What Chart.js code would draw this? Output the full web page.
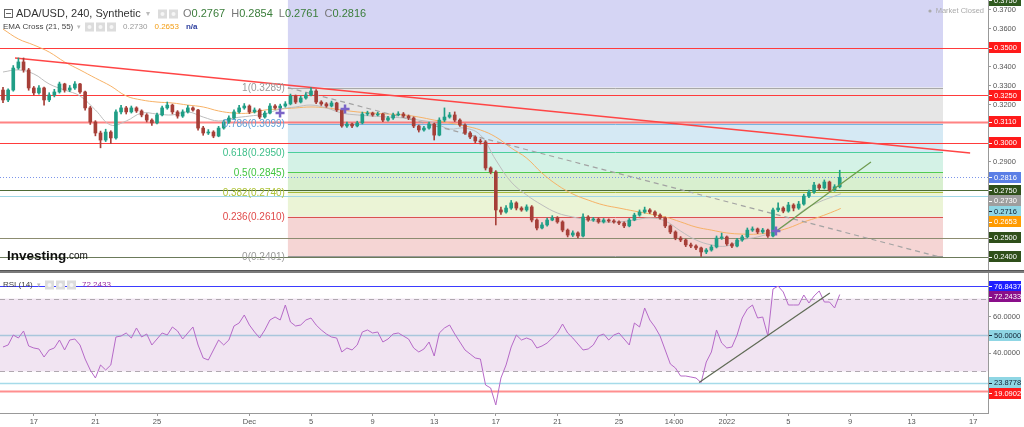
<!DOCTYPE html>
<html>
<head>
<meta charset="utf-8">
<script src="https://cdn.jsdelivr.net/npm/chart.js@4.4.1/dist/chart.umd.min.js"></script>
<style>
  body { margin: 0; background: #fff; width: 1024px; height: 427px; overflow: hidden; position: relative; }
  #price { position: absolute; left: 0; top: 0; }
  #rsi { position: absolute; left: 0; top: 273px; }
  .sep { position: absolute; left: 0; top: 270px; width: 1024px; height: 3px; background: #7a7a7a; border-top: 1px solid #555; box-sizing: border-box; }
</style>
</head>
<body>
<canvas id="price" width="1024" height="270"></canvas>
<div class="sep"></div>
<canvas id="rsi" width="1024" height="154"></canvas>
<script>
// ---------- data (x in days after 17 Nov 2021) ----------
const startDay = -2;        // first candle
const candleStep = 1 / 3;   // 8h candles
const firstOpen = 0.3276;

const closes = [
  0.3224,0.3276,0.3392,0.3424,0.3382,0.3287,0.3261,0.3287,0.3224,0.3250,
  0.3266,0.3308,0.3276,0.3287,0.3308,0.3266,0.3182,0.3108,0.3050,0.3013,
  0.3055,0.3024,0.3161,0.3182,0.3161,0.3182,0.3166,0.3145,0.3118,0.3103,
  0.3145,0.3182,0.3197,0.3161,0.3139,0.3161,0.3182,0.3171,0.3076,0.3050,
  0.3055,0.3034,0.3076,0.3108,0.3129,0.3161,0.3182,0.3192,0.3161,0.3171,
  0.3134,0.3155,0.3192,0.3182,0.3192,0.3203,0.3245,0.3213,0.3234,0.3250,
  0.3271,0.3213,0.3203,0.3192,0.3208,0.3171,0.3087,0.3097,0.3087,0.3103,
  0.3150,0.3155,0.3145,0.3150,0.3118,0.3129,0.3145,0.3150,0.3139,0.3129,
  0.3087,0.3066,0.3076,0.3097,0.3039,0.3118,0.3134,0.3145,0.3118,0.3092,
  0.3050,0.3029,0.3008,0.3003,0.2866,0.2845,0.2645,0.2634,0.2655,0.2682,
  0.2655,0.2645,0.2661,0.2592,0.2550,0.2566,0.2592,0.2603,0.2582,0.2539,
  0.2513,0.2524,0.2508,0.2608,0.2592,0.2597,0.2582,0.2592,0.2587,0.2582,
  0.2576,0.2561,0.2592,0.2618,0.2634,0.2645,0.2634,0.2618,0.2603,0.2561,
  0.2529,0.2497,0.2487,0.2461,0.2455,0.2445,0.2424,0.2434,0.2450,0.2497,
  0.2503,0.2466,0.2455,0.2487,0.2503,0.2539,0.2545,0.2529,0.2539,0.2508,
  0.2645,0.2655,0.2639,0.2671,0.2655,0.2676,0.2718,0.2739,0.2776,0.2761,
  0.2792,0.2750,0.2767,0.2816
];
const highs = [
  0.3290,0.3282,0.3405,0.3445,0.3445,0.3390,0.3295,0.3300,0.3292,0.3262,
  0.3280,0.3318,0.3312,0.3300,0.3320,0.3312,0.3270,0.3190,0.3115,0.3060,
  0.3070,0.3062,0.3172,0.3195,0.3190,0.3192,0.3188,0.3172,0.3152,0.3125,
  0.3155,0.3192,0.3213,0.3202,0.3168,0.3172,0.3195,0.3188,0.3175,0.3085,
  0.3068,0.3062,0.3085,0.3118,0.3140,0.3172,0.3195,0.3205,0.3198,0.3182,
  0.3178,0.3165,0.3205,0.3200,0.3202,0.3215,0.3255,0.3250,0.3245,0.3262,
  0.3289,0.3278,0.3220,0.3210,0.3218,0.3212,0.3175,0.3108,0.3102,0.3112,
  0.3160,0.3165,0.3160,0.3160,0.3155,0.3138,0.3155,0.3162,0.3158,0.3145,
  0.3135,0.3092,0.3085,0.3108,0.3102,0.3130,0.3182,0.3158,0.3161,0.3125,
  0.3098,0.3058,0.3035,0.3018,0.3010,0.2872,0.2852,0.2660,0.2668,0.2695,
  0.2688,0.2662,0.2672,0.2668,0.2598,0.2578,0.2602,0.2615,0.2610,0.2588,
  0.2545,0.2535,0.2530,0.2625,0.2615,0.2606,0.2603,0.2600,0.2598,0.2594,
  0.2588,0.2582,0.2600,0.2628,0.2645,0.2660,0.2652,0.2640,0.2625,0.2608,
  0.2566,0.2535,0.2505,0.2492,0.2470,0.2462,0.2450,0.2442,0.2460,0.2508,
  0.2523,0.2508,0.2472,0.2495,0.2512,0.2550,0.2556,0.2550,0.2548,0.2544,
  0.2655,0.2682,0.2662,0.2685,0.2678,0.2690,0.2728,0.2750,0.2790,0.2782,
  0.2803,0.2797,0.2778,0.2854
];
const lows = [
  0.3210,0.3215,0.3270,0.3385,0.3370,0.3275,0.3250,0.3255,0.3197,0.3215,
  0.3240,0.3260,0.3265,0.3268,0.3280,0.3258,0.3170,0.3095,0.3035,0.2972,
  0.3005,0.2995,0.3018,0.3150,0.3150,0.3155,0.3158,0.3135,0.3108,0.3090,
  0.3098,0.3140,0.3175,0.3150,0.3128,0.3132,0.3155,0.3165,0.3065,0.3038,
  0.3042,0.3025,0.3030,0.3070,0.3100,0.3122,0.3155,0.3175,0.3152,0.3155,
  0.3125,0.3128,0.3150,0.3175,0.3176,0.3186,0.3198,0.3205,0.3208,0.3228,
  0.3245,0.3205,0.3195,0.3185,0.3187,0.3163,0.3080,0.3080,0.3078,0.3082,
  0.3098,0.3142,0.3138,0.3140,0.3110,0.3112,0.3122,0.3140,0.3132,0.3120,
  0.3078,0.3055,0.3060,0.3070,0.3013,0.3035,0.3110,0.3128,0.3110,0.3085,
  0.3042,0.3020,0.2998,0.2992,0.2855,0.2835,0.2566,0.2622,0.2628,0.2648,
  0.2645,0.2638,0.2638,0.2582,0.2540,0.2545,0.2560,0.2588,0.2575,0.2530,
  0.2503,0.2505,0.2498,0.2503,0.2585,0.2585,0.2575,0.2576,0.2580,0.2575,
  0.2568,0.2552,0.2556,0.2588,0.2612,0.2628,0.2626,0.2610,0.2596,0.2552,
  0.2520,0.2488,0.2478,0.2452,0.2446,0.2436,0.2401,0.2415,0.2428,0.2445,
  0.2490,0.2458,0.2447,0.2450,0.2480,0.2498,0.2532,0.2520,0.2522,0.2500,
  0.2503,0.2636,0.2630,0.2633,0.2640,0.2648,0.2670,0.2710,0.2732,0.2752,
  0.2755,0.2742,0.2744,0.2761
];
const rsiValues = [
  43.41,44.51,50.00,48.35,52.20,43.96,42.86,42.31,37.91,41.76,
  42.86,47.25,41.76,47.25,47.80,44.51,36.81,30.77,26.37,33.52,
  30.77,33.52,48.90,49.45,51.10,48.35,53.85,48.90,50.55,44.51,
  47.80,51.10,50.00,54.40,52.20,47.80,51.10,54.40,44.51,37.36,
  36.26,41.76,47.25,44.51,47.25,54.95,56.59,60.99,55.49,51.65,
  48.35,52.75,58.24,59.89,58.24,66.48,57.14,54.95,55.49,58.24,
  59.34,55.49,52.75,50.55,48.90,48.35,40.66,42.86,41.76,44.51,
  51.65,52.75,51.10,51.65,46.15,47.80,50.55,51.10,49.45,47.80,
  42.86,40.66,42.31,46.15,38.46,51.10,53.85,55.49,50.55,46.15,
  41.76,39.56,37.36,36.81,22.53,20.88,11.54,26.37,33.52,43.41,
  50.00,47.25,48.35,47.25,42.86,43.96,45.60,48.35,51.10,56.04,
  51.10,48.35,45.05,41.76,42.31,44.51,49.45,50.55,47.25,50.00,
  51.10,47.80,44.51,56.59,54.40,64.84,58.24,54.40,49.45,41.76,
  34.07,31.87,27.47,27.47,26.92,26.37,23.88,35.16,40.66,52.75,
  45.60,42.86,43.41,50.00,59.34,64.29,66.48,59.34,59.89,49.45,
  75.27,76.84,73.63,66.48,66.48,66.48,71.98,67.58,71.43,74.18,
  68.13,68.13,64.84,72.24
];

const emaDays = [-2,-1,0,1,2,3,4,5,6,7,8,9,10,11,12,13,14,15,16,17,18,19,20,21,22,23,24,25,26,27,
  28,29,30,31,32,33,34,35,36,37,38,39,40,41,42,43,44,45,46,47,48,49,50,51,52,52.4];
const ema21 = [0.3371,0.3382,0.3361,0.3308,0.3276,0.3245,0.3171,0.3092,0.3113,0.3155,0.3150,0.3145,
  0.3161,0.3134,0.3113,0.3129,0.3139,0.3150,0.3176,0.3187,0.3197,0.3182,0.3155,0.3145,0.3139,0.3134,
  0.3129,0.3118,0.3103,0.3071,0.3076,0.3039,0.2908,0.2792,0.2724,0.2671,0.2629,0.2608,0.2592,0.2582,
  0.2582,0.2592,0.2603,0.2587,0.2534,0.2487,0.2461,0.2455,0.2487,0.2503,0.2529,0.2576,0.2645,0.2687,
  0.2718,0.2730];
const ema55 = [0.3597,0.3545,0.3513,0.3476,0.3424,0.3382,0.3339,0.3297,0.3245,0.3224,0.3213,0.3208,
  0.3197,0.3187,0.3166,0.3155,0.3155,0.3171,0.3176,0.3182,0.3187,0.3182,0.3171,0.3161,0.3155,0.3150,
  0.3145,0.3134,0.3118,0.3103,0.3087,0.3066,0.3029,0.2971,0.2918,0.2839,0.2776,0.2729,0.2697,0.2671,
  0.2655,0.2639,0.2624,0.2608,0.2582,0.2555,0.2539,0.2524,0.2518,0.2518,0.2529,0.2550,0.2582,0.2608,
  0.2639,0.2653];

const fibRatios = ['1', '0.786', '0.618', '0.5', '0.382', '0.236', '0'];
const fibPrices = [0.3289, 0.3099, 0.2950, 0.2845, 0.2740, 0.2610, 0.2401];
const fibDays = [16.5, 59.04];

const hLevels = [0.3500, 0.3250, 0.3110, 0.3000, 0.2750, 0.2716, 0.2500, 0.2400];
const lastPrice = 0.2816;
const redTrendDays = [-1.22, 60.8];
const redTrendPrices = [0.3445, 0.2945];
const dashTrendDays = [16.5, 58.85];
const dashTrendPrices = [0.3289, 0.2397];
const greenTrendDays = [48.13, 54.36];
const greenTrendPrices = [0.2529, 0.2897];
const markerDays = [15.99, 20.21, 48.19];
const markerPrices = [0.3155, 0.3176, 0.2534];

const rsiLevels = [76.8437, 50, 23.8778, 19.0902];
const rsiBand = [30, 70];
const rsiTrendDays = [43.2, 51.69];
const rsiTrendValues = [23.88, 73.08];

const priceTicks = [0.29, 0.32, 0.33, 0.34, 0.36, 0.37];
const rsiTicks = [40, 60];
const xTickDays = [0, 4, 8, 14, 18, 22, 26, 30, 34, 38, 41.58, 45, 49, 53, 57, 61];
const xTickLabels = ['17','21','25','Dec','5','9','13','17','21','25','14:00','2022','5','9','13','17'];

const priceTags = [0.3750, 0.3500, 0.3250, 0.3110, 0.3000, 0.2816, 0.2750, 0.2730, 0.2716, 0.2653, 0.2500, 0.2400];
const rsiTags = [76.8437, 72.2433, 50.0000, 23.8778, 19.0902];

// ---------- styles ----------
const FONT = '"Liberation Sans", Arial, sans-serif';
Chart.defaults.font.family = FONT;
const upColor = '#1f9e86';
const downColor = '#a63f38';
const fibZoneColors = ['#d5d5f4', '#e6e6e6', '#d5e9f4', '#d4f2e6', '#d8efcf', '#ebf4d6', '#f5d5d4'];
const fibLineColors = ['#a8a8a8', '#78b4e0', '#4ccf9c', '#52cc52', '#a6ba3c', '#d9534f', '#9a9a9a'];
const fibTextColors = ['#9a9a9a', '#5d9fd6', '#3dbf8a', '#41c441', '#b0c43a', '#e04a4a', '#9a9a9a'];
const hLevelColors = ['#ff3b3b', '#ff3b3b', 'rgba(255,90,90,0.75)', '#ff3b3b', '#4d6b35', '#9fd6e6', '#8c8c70', '#6b7a5a'];
const hLevelWidths = [1, 1, 2, 1, 1.2, 1.2, 1.2, 1.2];
const priceTagStyles = [['#2f5a1f','#fff'],['#ff1a1a','#fff'],['#ff1a1a','#fff'],['#ff1a1a','#fff'],['#ff1a1a','#fff'],
  ['#5b7fe6','#fff'],['#2f4f1a','#fff'],['#9e9e9e','#fff'],['#8fd6e4','#123'],['#ff9b00','#fff'],['#2f4f1a','#fff'],['#2f4f1a','#fff']];
const rsiTagStyles = [['#1f1fff','#fff'],['#8a0e8a','#fff'],['#8fd6e4','#123'],['#8fd6e4','#123'],['#ff1a1a','#fff']];
const rsiLevelColors = ['#3b3bff', '#a9c6dc', '#a6dbe9', '#ff8f8f'];
const rsiLevelWidths = [1, 1.5, 1.5, 2];

const X_MIN = -2.1948, X_MAX = 61.961;

const candles = closes.map((c, i) => ({
  d: startDay + i * candleStep,
  o: i === 0 ? firstOpen : closes[i - 1],
  c: c, h: highs[i], l: lows[i]
}));
const candleColor = ctx => {
  const k = candles[ctx.dataIndex];
  return k && k.c >= k.o ? upColor : downColor;
};
const pts = (xs, ys) => xs.map((x, i) => ({ x: x, y: ys[i] }));

function hLine(ctx, x0, x1, py, color, width, dash) {
  ctx.beginPath();
  ctx.strokeStyle = color;
  ctx.lineWidth = width;
  ctx.setLineDash(dash || []);
  ctx.moveTo(x0, py);
  ctx.lineTo(x1, py);
  ctx.stroke();
  ctx.setLineDash([]);
}

function drawTags(ctx, scale, tags, styles) {
  const items = tags.map((v, i) => ({ v: v, py: scale.getPixelForValue(v), st: styles[i] }))
    .sort((a, b) => a.py - b.py);
  let prev = -Infinity;
  items.forEach(it => { it.py = Math.max(it.py, prev + 10.5); prev = it.py; });
  ctx.font = '7.5px ' + FONT;
  ctx.textAlign = 'left';
  ctx.textBaseline = 'middle';
  items.forEach(it => {
    ctx.fillStyle = it.st[0];
    ctx.fillRect(scale.left + 1, Math.round(it.py - 5.5), 32, 11);
    ctx.fillStyle = it.st[1];
    ctx.fillRect(scale.left + 1, Math.round(it.py), 3, 1);
    ctx.fillText(it.v.toFixed(4), scale.left + 6, it.py + 0.5);
  });
}

function icons(ctx, x, y, n) {
  for (let i = 0; i < n; i++) {
    ctx.fillStyle = '#dcdcdc';
    ctx.fillRect(x + i * 11, y - 4.5, 9, 9);
    ctx.fillStyle = '#f6f6f6';
    ctx.beginPath();
    ctx.arc(x + i * 11 + 4.5, y, 2, 0, Math.PI * 2);
    ctx.fill();
  }
}

function runs(ctx, x, y, parts) {
  parts.forEach(p => {
    ctx.font = p[2];
    ctx.fillStyle = p[1];
    ctx.fillText(p[0], x, y);
    x += ctx.measureText(p[0]).width + (p[3] || 0);
  });
}

const fixedAxis = w => scale => { scale.width = w; scale.paddingTop = 0; scale.paddingBottom = 0; };

// ---------- price chart ----------
const priceDecor = {
  id: 'priceDecor',
  beforeDatasetsDraw(chart) {
    const { ctx, chartArea: a, scales: { x, y } } = chart;
    const fx0 = x.getPixelForValue(fibDays[0]);
    const fx1 = x.getPixelForValue(fibDays[1]);
    ctx.save();
    fibZoneColors.forEach((col, k) => {
      const top = k === 0 ? a.top : y.getPixelForValue(fibPrices[k - 1]);
      const bot = y.getPixelForValue(fibPrices[k]);
      ctx.fillStyle = col;
      ctx.fillRect(fx0, top, fx1 - fx0, bot - top);
    });
    fibPrices.forEach((p, k) => hLine(ctx, fx0, fx1, Math.round(y.getPixelForValue(p)) + 0.5, fibLineColors[k], 1));
    hLevels.forEach((p, k) => hLine(ctx, a.left, a.right, Math.round(y.getPixelForValue(p)) + 0.5, hLevelColors[k], hLevelWidths[k]));
    hLine(ctx, a.left, a.right, Math.round(y.getPixelForValue(lastPrice)) + 0.5, '#7b95ea', 1, [1, 2]);
    ctx.restore();
  },
  afterDraw(chart) {
    const { ctx, scales: { x, y } } = chart;
    const fx0 = x.getPixelForValue(fibDays[0]);
    ctx.save();
    ctx.font = '10px ' + FONT;
    ctx.textAlign = 'right';
    ctx.textBaseline = 'middle';
    fibPrices.forEach((p, k) => {
      ctx.fillStyle = fibTextColors[k];
      ctx.fillText(fibRatios[k] + '(' + p.toFixed(4) + ')', fx0 - 3, y.getPixelForValue(p) + 1);
    });
    drawTags(ctx, y, priceTags, priceTagStyles);

    // header
    ctx.textAlign = 'left';
    ctx.textBaseline = 'middle';
    ctx.strokeStyle = '#666';
    ctx.lineWidth = 1;
    ctx.strokeRect(4.5, 9.5, 8, 8);
    hLine(ctx, 6, 11, 13.5, '#666', 1);
    const big = '11px ' + FONT;
    runs(ctx, 16, 14, [['ADA/USD, 240, Synthetic', '#333', big, 5], ['\u25BE', '#bbb', '8px ' + FONT, 0]]);
    icons(ctx, 158, 14, 2);
    runs(ctx, 183, 14, [['O', '#777', big], ['0.2767', '#3a7d3a', big, 6], ['H', '#777', big], ['0.2854', '#3a7d3a', big, 6],
      ['L', '#777', big], ['0.2761', '#3a7d3a', big, 6], ['C', '#777', big], ['0.2816', '#3a7d3a', big]]);
    const sm = '8px ' + FONT;
    runs(ctx, 3, 27, [['EMA Cross (21, 55)', '#444', sm, 4], ['\u25BE', '#bbb', '7px ' + FONT]]);
    icons(ctx, 85, 27, 3);
    runs(ctx, 123, 27, [['0.2730', '#9a9a9a', sm, 7], ['0.2653', '#f39c12', sm, 7], ['n/a', '#2c3e9e', 'bold 8px ' + FONT]]);

    // market closed
    ctx.textAlign = 'right';
    ctx.font = '7.5px ' + FONT;
    ctx.fillStyle = '#aaa';
    ctx.fillText('Market Closed', 984, 11);
    ctx.beginPath();
    ctx.arc(930, 11, 1.6, 0, Math.PI * 2);
    ctx.fill();

    // logo
    ctx.textAlign = 'left';
    runs(ctx, 7, 256, [['Investing', '#111', 'bold 13.5px ' + FONT], ['.com', '#111', '10px ' + FONT]]);
    ctx.restore();
  }
};

new Chart(document.getElementById('price'), {
  type: 'bar',
  data: {
    datasets: [
      { type: 'line', data: pts(markerDays, markerPrices), showLine: false, pointStyle: 'cross',
        pointRadius: 4.5, pointBorderWidth: 2.5, pointBorderColor: '#7a64c8', order: 0 },
      { type: 'line', data: pts(greenTrendDays, greenTrendPrices), borderColor: '#6e9a4e', borderWidth: 1.2, pointRadius: 0, order: 1 },
      { type: 'bar', data: candles.map(k => ({ x: k.d, y: [k.o, k.c] })), backgroundColor: candleColor,
        barThickness: 3, minBarLength: 1, grouped: false, order: 2 },
      { type: 'bar', data: candles.map(k => ({ x: k.d, y: [k.l, k.h] })), backgroundColor: candleColor,
        barThickness: 1, grouped: false, order: 3 },
      { type: 'line', data: pts(redTrendDays, redTrendPrices), borderColor: '#ff4545', borderWidth: 1.4, pointRadius: 0, order: 4 },
      { type: 'line', data: pts(dashTrendDays, dashTrendPrices), borderColor: '#a3a3a3', borderDash: [5, 4], borderWidth: 1.2, pointRadius: 0, order: 4 },
      { type: 'line', data: pts(emaDays, ema21), borderColor: '#bdbdbd', borderWidth: 1, pointRadius: 0, tension: 0.4, order: 5 },
      { type: 'line', data: pts(emaDays, ema55), borderColor: '#f7b267', borderWidth: 1, pointRadius: 0, tension: 0.4, order: 5 }
    ]
  },
  options: {
    responsive: false,
    animation: false,
    devicePixelRatio: 1,
    events: [],
    layout: { padding: 0, autoPadding: false },
    plugins: { legend: { display: false }, tooltip: { enabled: false } },
    scales: {
      x: { type: 'linear', display: false, min: X_MIN, max: X_MAX, offset: false },
      y: {
        position: 'right', min: 0.232895, max: 0.375,
        afterFit: fixedAxis(36),
        afterBuildTicks: s => { s.ticks = priceTicks.map(v => ({ value: v })); },
        ticks: { callback: v => v.toFixed(4), font: { size: 7.5 }, color: '#555', padding: 2 },
        grid: { drawOnChartArea: false, tickLength: 3, color: '#999' },
        border: { color: '#999' }
      }
    }
  },
  plugins: [priceDecor]
});

// ---------- RSI chart ----------
const rsiDecor = {
  id: 'rsiDecor',
  beforeDatasetsDraw(chart) {
    const { ctx, chartArea: a, scales: { y } } = chart;
    ctx.save();
    const yt = y.getPixelForValue(rsiBand[1]), yb = y.getPixelForValue(rsiBand[0]);
    ctx.fillStyle = '#f1e4f2';
    ctx.fillRect(a.left, yt, a.right - a.left, yb - yt);
    rsiBand.forEach(v => hLine(ctx, a.left, a.right, Math.round(y.getPixelForValue(v)) + 0.5, '#b0a8b0', 1, [5, 4]));
    rsiLevels.forEach((v, k) => hLine(ctx, a.left, a.right, Math.round(y.getPixelForValue(v)) + 0.5, rsiLevelColors[k], rsiLevelWidths[k]));
    ctx.restore();
  },
  afterDraw(chart) {
    const { ctx, scales: { y } } = chart;
    ctx.save();
    drawTags(ctx, y, rsiTags, rsiTagStyles);
    ctx.textAlign = 'left';
    ctx.textBaseline = 'middle';
    const sm = '8px ' + FONT;
    runs(ctx, 3, 12, [['RSI (14)', '#444', sm, 4], ['\u25BE', '#bbb', '7px ' + FONT]]);
    icons(ctx, 45, 12, 3);
    runs(ctx, 82, 12, [['72.2433', '#9b30a0', sm]]);
    ctx.restore();
  }
};

new Chart(document.getElementById('rsi'), {
  type: 'line',
  data: {
    datasets: [
      { data: pts(rsiTrendDays, rsiTrendValues), borderColor: '#5f6a55', borderWidth: 1.2, pointRadius: 0, order: 0 },
      { data: candles.map((k, i) => ({ x: k.d, y: rsiValues[i] })), borderColor: '#b66ac8', borderWidth: 1, pointRadius: 0, order: 1 }
    ]
  },
  options: {
    responsive: false,
    animation: false,
    devicePixelRatio: 1,
    events: [],
    layout: { padding: 0, autoPadding: false },
    plugins: { legend: { display: false }, tooltip: { enabled: false } },
    scales: {
      x: {
        type: 'linear', min: X_MIN, max: X_MAX, offset: false,
        afterFit: s => { s.height = 14; s.paddingLeft = 0; s.paddingRight = 0; },
        afterBuildTicks: s => { s.ticks = xTickDays.map(v => ({ value: v })); },
        ticks: { callback: (v, i) => xTickLabels[i], autoSkip: false, maxRotation: 0, font: { size: 7.5 }, color: '#555', padding: 1 },
        grid: { drawOnChartArea: false, tickLength: 3, color: '#999' },
        border: { color: '#999' }
      },
      y: {
        position: 'right', min: 7.143, max: 84.066,
        afterFit: fixedAxis(36),
        afterBuildTicks: s => { s.ticks = rsiTicks.map(v => ({ value: v })); },
        ticks: { callback: v => v.toFixed(4), font: { size: 7.5 }, color: '#555', padding: 2 },
        grid: { drawOnChartArea: false, tickLength: 3, color: '#999' },
        border: { color: '#999' }
      }
    }
  },
  plugins: [rsiDecor]
});
</script>
</body>
</html>
